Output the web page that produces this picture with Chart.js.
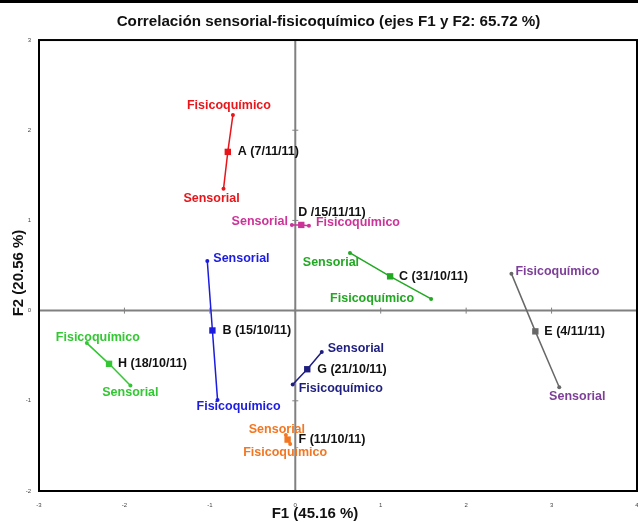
<!DOCTYPE html>
<html><head><meta charset="utf-8">
<script src="https://cdn.jsdelivr.net/npm/chart.js@4"></script>
<style>html,body{margin:0;padding:0;background:#fff;overflow:hidden}#wrap{width:638px;height:522px;position:relative}</style>
</head><body><div id="wrap"><canvas id="c" width="638" height="522"></canvas></div>
<script>
// ---- data ----
const samples = ['A (7/11/11)', 'B (15/10/11)', 'C (31/10/11)', 'D /15/11/11)', 'E (4/11/11)', 'F (11/10/11)', 'G (21/10/11)', 'H (18/10/11)'];
const sensLabel = 'Sensorial';
const fisLabel = 'Fisicoquímico';
const sensX = [-0.84, -1.03, 0.64, -0.04, 3.09, -0.11, 0.31, -1.93];
const sensY = [1.35, 0.55, 0.64, 0.95, -0.85, -1.38, -0.46, -0.83];
const ctrX = [-0.79, -0.97, 1.11, 0.07, 2.81, -0.09, 0.14, -2.18];
const ctrY = [1.76, -0.22, 0.38, 0.95, -0.23, -1.43, -0.65, -0.59];
const fisX = [-0.73, -0.91, 1.59, 0.16, 2.53, -0.06, -0.03, -2.44];
const fisY = [2.17, -0.99, 0.13, 0.94, 0.41, -1.48, -0.82, -0.36];
const xTicks = [-3, -2, -1, 0, 1, 2, 3, 4];
const yTicks = [-2, -1, 0, 1, 2, 3];
const chartTitle = 'Correlación sensorial-fisicoquímico (ejes F1 y F2: 65.72 %)';
const xTitle = 'F1 (45.16 %)';
const yTitle = 'F2 (20.56 %)';

// ---- styles ----
const lineColors = ['#e8161b', '#1c1ce0', '#22a822', '#cc3399', '#686868', '#f37621', '#1e1e80', '#33c733'];
const labelColors = ['#e8161b', '#1c1ce0', '#22a822', '#cc3399', '#7e3f98', '#f37621', '#1e1e80', '#33c733'];
// pixel offsets for labels: [dx, dy, align]
const labelPos = [
  {sens: [-12, 10, 'center'], ctr: [10, 0, 'left'], fis: [-4, -9, 'center']},
  {sens: [6, -2, 'left'], ctr: [10, 0, 'left'], fis: [21, 7, 'center']},
  {sens: [-19, 10, 'center'], ctr: [9, 0, 'left'], fis: [-59, 0, 'center']},
  {sens: [-4, -3, 'right'], ctr: [-3, -12, 'left'], fis: [7, -3, 'left']},
  {sens: [18, 9, 'center'], ctr: [9, 0, 'left'], fis: [4, -2, 'left']},
  {sens: [-9, -6, 'center'], ctr: [11, 0, 'left'], fis: [-5, 8, 'center']},
  {sens: [6, -4, 'left'], ctr: [10, 0, 'left'], fis: [6, 4, 'left']},
  {sens: [0, 7, 'center'], ctr: [9, 0, 'left'], fis: [11, -6, 'center']}
];
const FONT = '"Liberation Sans", Arial, sans-serif';

const datasets = samples.map((s, i) => ({
  label: s,
  data: [{x: fisX[i], y: fisY[i]}, {x: ctrX[i], y: ctrY[i]}, {x: sensX[i], y: sensY[i]}],
  showLine: true,
  borderColor: lineColors[i],
  backgroundColor: lineColors[i],
  borderWidth: 1.5,
  pointStyle: ['circle', 'rect', 'circle'],
  pointRadius: [2, 4.5, 2],
  pointBorderWidth: 0
}));

const decor = {
  id: 'decor',
  beforeDraw(chart) {
    const {ctx} = chart;
    ctx.save();
    ctx.fillStyle = '#fff';
    ctx.fillRect(0, 0, chart.width, chart.height);
    ctx.fillStyle = '#000';
    ctx.fillRect(0, 0, chart.width, 3);
    ctx.restore();
  },
  beforeDatasetsDraw(chart) {
    const {ctx, chartArea: a, scales: {x, y}} = chart;
    const x0 = x.getPixelForValue(0), y0 = y.getPixelForValue(0);
    ctx.save();
    ctx.strokeStyle = '#808080';
    ctx.lineWidth = 2;
    ctx.beginPath();
    ctx.moveTo(a.left, y0); ctx.lineTo(a.right, y0);
    ctx.moveTo(x0, a.top); ctx.lineTo(x0, a.bottom);
    ctx.stroke();
    ctx.lineWidth = 1;
    ctx.beginPath();
    xTicks.forEach(v => { const p = x.getPixelForValue(v); ctx.moveTo(p, y0 - 3); ctx.lineTo(p, y0 + 3); });
    yTicks.forEach(v => { const p = y.getPixelForValue(v); ctx.moveTo(x0 - 3, p); ctx.lineTo(x0 + 3, p); });
    ctx.stroke();
    ctx.strokeStyle = '#000';
    ctx.lineWidth = 2;
    ctx.strokeRect(a.left, a.top, a.right - a.left, a.bottom - a.top);
    ctx.restore();
    // axis titles
    ctx.save();
    ctx.fillStyle = '#111';
    ctx.font = 'bold 15px ' + FONT;
    ctx.textAlign = 'center';
    ctx.textBaseline = 'middle';
    ctx.fillText(xTitle, 315, 514);
    ctx.translate(19, 273);
    ctx.rotate(-Math.PI / 2);
    ctx.fillText(yTitle, 0, 0);
    ctx.restore();
  },
  afterDatasetsDraw(chart) {
    const {ctx, scales: {x, y}} = chart;
    ctx.save();
    ctx.font = 'bold 12.5px ' + FONT;
    ctx.textBaseline = 'middle';
    samples.forEach((s, i) => {
      const lp = labelPos[i];
      const items = [
        [sensLabel, sensX[i], sensY[i], lp.sens, labelColors[i]],
        [s, ctrX[i], ctrY[i], lp.ctr, '#111'],
        [fisLabel, fisX[i], fisY[i], lp.fis, labelColors[i]]
      ];
      items.forEach(([t, vx, vy, p, col]) => {
        ctx.fillStyle = col;
        ctx.textAlign = p[2];
        ctx.fillText(t, x.getPixelForValue(vx) + p[0], y.getPixelForValue(vy) + p[1]);
      });
    });
    ctx.restore();
  }
};

new Chart(document.getElementById('c'), {
  type: 'scatter',
  data: {datasets},
  plugins: [decor],
  options: {
    responsive: false,
    animation: false,
    events: [],
    layout: {autoPadding: false, padding: {left: 20, right: 1, top: 0, bottom: 0}},
    plugins: {
      legend: {display: false},
      tooltip: {enabled: false},
      title: {
        display: true, text: chartTitle, color: '#111',
        font: {family: FONT, size: 15.2, weight: 'bold', lineHeight: 1.2},
        padding: {top: 13, bottom: 8.8}
      }
    },
    scales: {
      x: {
        type: 'linear', min: -3, max: 4,
        afterBuildTicks(s) { s.ticks = xTicks.map(v => ({value: v})); },
        afterFit(s) { s.height = 31; s.paddingLeft = 0; s.paddingRight = 0; },
        grid: {display: false, drawTicks: false},
        border: {display: false},
        ticks: {font: {family: FONT, size: 6}, color: '#444', padding: 11, maxRotation: 0}
      },
      y: {
        type: 'linear', min: -2, max: 3,
        afterBuildTicks(s) { s.ticks = yTicks.map(v => ({value: v})); },
        afterFit(s) { s.width = 19; s.paddingTop = 0; s.paddingBottom = 0; },
        grid: {display: false, drawTicks: false},
        border: {display: false},
        ticks: {font: {family: FONT, size: 6}, color: '#444', padding: 8}
      }
    }
  }
});
</script>
</body></html>
